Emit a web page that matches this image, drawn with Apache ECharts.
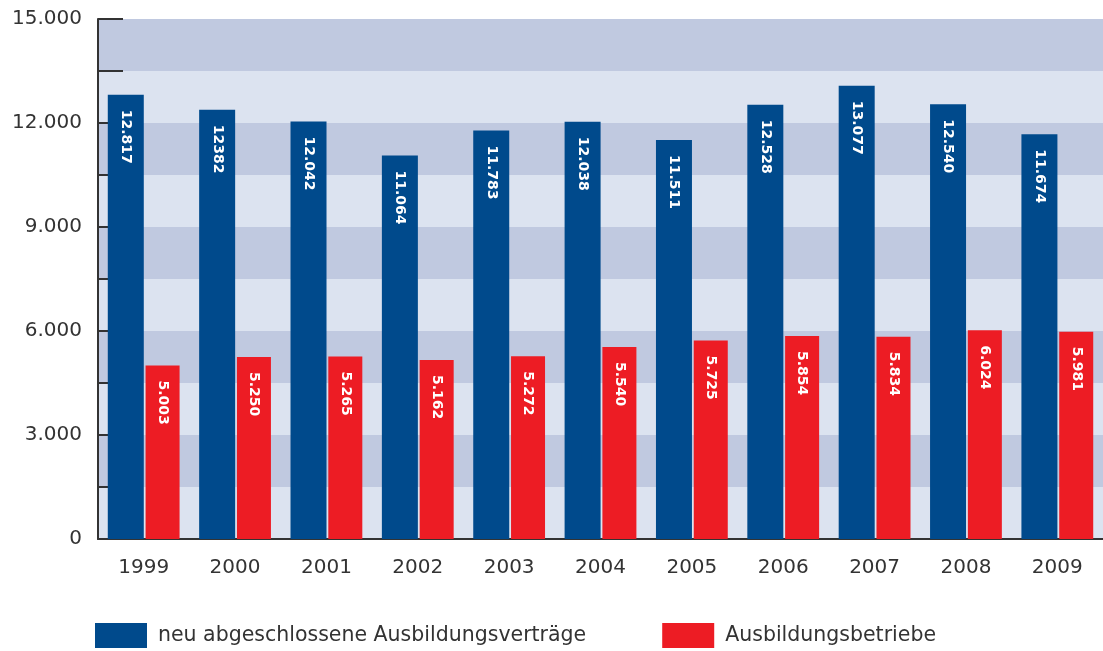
<!DOCTYPE html>
<html>
<head>
<meta charset="utf-8">
<script src="https://cdn.jsdelivr.net/npm/echarts@6/dist/echarts.min.js"></script>
<style>
  html, body { margin: 0; padding: 0; background: #fff; }
  #chart { width: 1103px; height: 651px; }
</style>
</head>
<body>
<div id="chart"></div>
<script>
var years = ['1999', '2000', '2001', '2002', '2003', '2004', '2005', '2006', '2007', '2008', '2009'];
var vertraege = [12817, 12382, 12042, 11064, 11783, 12038, 11511, 12528, 13077, 12540, 11674];
var betriebe = [5003, 5250, 5265, 5162, 5272, 5540, 5725, 5854, 5834, 6024, 5981];
// texts as printed on the bars (some without dot)
var vertraegeText = ['12.817', '12382', '12.042', '11.064', '11.783', '12.038', '11.511', '12.528', '13.077', '12.540', '11.674'];
var betriebeText = ['5.003', '5.250', '5.265', '5.162', '5.272', '5.540', '5.725', '5.854', '5.834', '6.024', '5.981'];

var font = 'DejaVu Sans';

function fmt(v) {
  if (v === 0) return '0';
  var r = String(v % 1000);
  while (r.length < 3) r = '0' + r;
  return Math.floor(v / 1000) + '.' + r;
}

function barLabel(texts) {
  return {
    show: true,
    position: 'insideTop',
    distance: 15,
    rotate: -90,
    align: 'left',
    verticalAlign: 'middle',
    color: '#fff',
    fontFamily: font,
    fontSize: 14,
    fontWeight: 'bold',
    formatter: function (p) { return texts[p.dataIndex]; }
  };
}

var chart = echarts.init(document.getElementById('chart'));
var option = {
  animation: false,
  grid: { left: 98, top: 19, width: 1017, bottom: 112 },
  legend: {
    left: 90,
    top: 618,
    itemWidth: 52,
    itemHeight: 25,
    itemGap: 76,
    icon: 'rect',
    textStyle: { fontFamily: font, fontSize: 20.5, color: '#333', padding: [0, 0, 0, 6] },
    data: ['neu abgeschlossene Ausbildungsverträge', 'Ausbildungsbetriebe']
  },
  xAxis: {
    type: 'category',
    data: years,
    axisLine: { lineStyle: { color: '#333', width: 2 } },
    axisTick: { inside: true, length: 14, interval: 0, lineStyle: { color: '#333', width: 2 } },
    axisLabel: { margin: 19, fontFamily: font, fontSize: 20, color: '#333' }
  },
  yAxis: {
    type: 'value',
    min: 0,
    max: 15000,
    interval: 1500,
    axisLine: { show: true, lineStyle: { color: '#333', width: 2 } },
    axisTick: { show: true, inside: true, length: 25, lineStyle: { color: '#333', width: 2 } },
    axisLabel: {
      margin: 16,
      fontFamily: font,
      fontSize: 20,
      color: '#333',
      formatter: function (v) { return v % 3000 === 0 ? fmt(v) : ''; }
    },
    splitLine: { show: false },
    splitArea: { show: true, areaStyle: { color: ['#dce3f0', '#c0c9e0'] } }
  },
  series: [
    {
      name: 'neu abgeschlossene Ausbildungsverträge',
      type: 'bar',
      data: vertraege,
      barWidth: 36,
      barGap: '5%',
      itemStyle: { color: '#004a8c' },
      label: barLabel(vertraegeText)
    },
    {
      name: 'Ausbildungsbetriebe',
      type: 'bar',
      data: betriebe,
      barWidth: 34,
      itemStyle: { color: '#ed1c24' },
      label: barLabel(betriebeText)
    }
  ]
};
chart.setOption(option);
</script>
</body>
</html>
